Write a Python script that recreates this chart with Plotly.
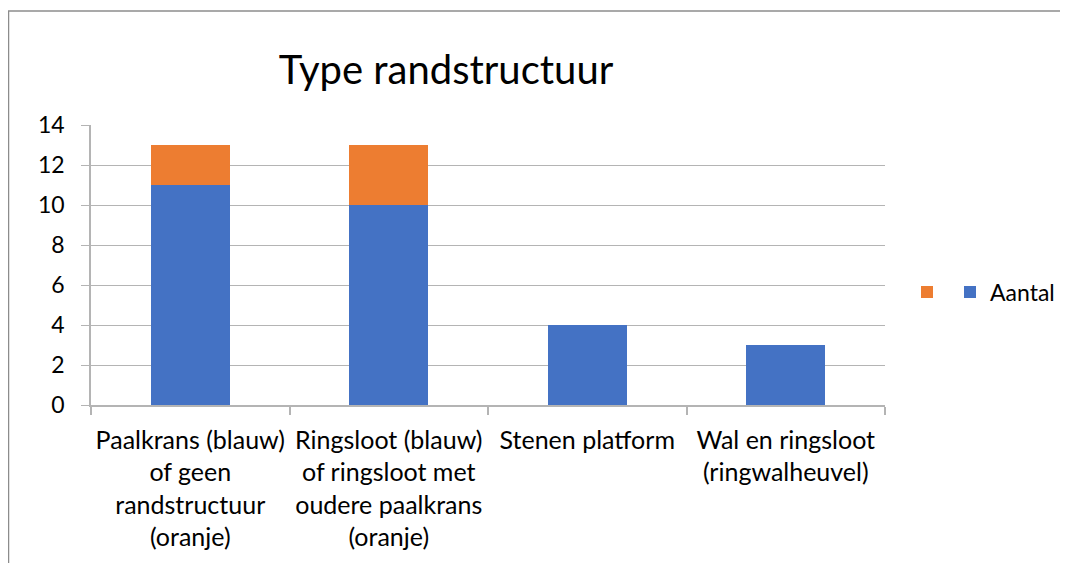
import plotly.graph_objects as go

categories = [
    "Paalkrans (blauw)<br>of geen<br>randstructuur<br>(oranje)",
    "Ringsloot (blauw)<br>of ringsloot met<br>oudere paalkrans<br>(oranje)",
    "Stenen platform",
    "Wal en ringsloot<br>(ringwalheuvel)",
]
blue_values = [11, 10, 4, 3]
orange_values = [2, 3, 0, 0]
y_ticks = [0, 2, 4, 6, 8, 10, 12, 14]

# page has an 8px body margin; work in page pixels and convert
OFF = 8
W, H = 1068 - OFF, 563 - OFF
L, R, T, B = 91 - OFF, 885 - OFF, 125 - OFF, 405 - OFF

FONT = "Lato"
LINE = "#B4B4B4"

fig = go.Figure()
fig.add_trace(go.Bar(x=categories, y=blue_values, name="Aantal", legend="legend",
                     marker=dict(color="#4472C4", line=dict(width=0))))
fig.add_trace(go.Bar(x=categories, y=orange_values, name=" ", legend="legend2",
                     marker=dict(color="#ED7D31", line=dict(width=0))))

px2x = lambda px: (px - OFF - L) / (R - L)
px2y = lambda py: (B - (py - OFF)) / (B - T)

legend_common = dict(orientation="v", xanchor="left", yanchor="middle",
                     font=dict(size=23, family=FONT, color="#000000"),
                     bgcolor="rgba(0,0,0,0)", borderwidth=0)

fig.update_layout(
    width=W, height=H,
    margin=dict(l=L, r=W - R, t=T, b=H - B, autoexpand=False),
    paper_bgcolor="white", plot_bgcolor="white",
    barmode="stack", bargap=0.6,
    font=dict(family=FONT, color="#000000"),
    title=dict(text="Type randstructuur", x=(446 - OFF) / W, xref="container", xanchor="center",
               y=1 - (70 - OFF) / H, yref="container", yanchor="middle",
               font=dict(size=40, family=FONT, color="#000000")),
    showlegend=True,
    legend=dict(x=px2x(950), y=px2y(292), **legend_common),
    legend2=dict(x=px2x(907), y=px2y(292), **legend_common),
    xaxis=dict(type="category", showline=True, linecolor=LINE, linewidth=1.5,
               ticks="outside", tickson="boundaries", ticklen=8, tickcolor=LINE, tickwidth=1.5,
               showgrid=False, tickfont=dict(size=25, family=FONT), fixedrange=True,
               tickangle=0, ticklabelstandoff=12),
    yaxis=dict(range=[0, 14], tickvals=y_ticks, showline=True, linecolor=LINE,
               linewidth=1.5, ticks="outside", ticklen=8, tickcolor=LINE, tickwidth=1,
               showgrid=True, gridcolor=LINE, gridwidth=1, zeroline=False,
               tickfont=dict(size=23, family=FONT), ticklabelstandoff=12),
    shapes=[
        dict(type="line", xref="paper", yref="paper", x0=px2x(8.5), x1=px2x(8.5),
             y0=px2y(11), y1=px2y(600), line=dict(color="#8C8C8C", width=1.5)),
        dict(type="line", xref="paper", yref="paper", x0=px2x(8), x1=px2x(1100),
             y0=px2y(11), y1=px2y(11), line=dict(color="#8C8C8C", width=1.5)),
    ],
)

fig.write_html("out.html")
